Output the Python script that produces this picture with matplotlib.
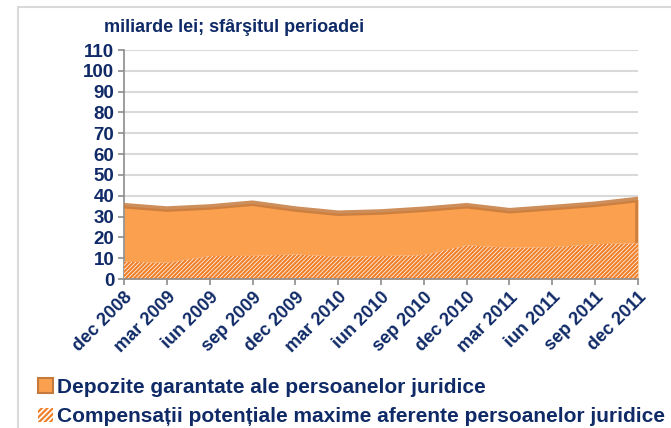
import numpy as np
import matplotlib
matplotlib.use('Agg')
import matplotlib.pyplot as plt
from matplotlib.patches import Patch, Rectangle

# data (miliarde lei)
periods = ['dec 2008', 'mar 2009', 'iun 2009', 'sep 2009', 'dec 2009', 'mar 2010',
           'iun 2010', 'sep 2010', 'dec 2010', 'mar 2011', 'iun 2011', 'sep 2011', 'dec 2011']
depozite = [35.2, 33.6, 34.6, 36.4, 33.6, 31.6, 32.2, 33.5, 35.2, 32.8, 34.3, 35.9, 38.2]
compensatii = [8.3, 7.8, 11.0, 11.1, 11.8, 10.7, 11.0, 11.5, 16.2, 15.0, 15.3, 16.7, 17.2]
yticks = list(range(0, 111, 10))

navy = '#0F2A66'
orange = '#FAA04E'
edge = '#C57A3D'
hatch_col = '#F0802A'

plt.rcParams['font.family'] = ['Liberation Sans', 'DejaVu Sans']
plt.rcParams['font.weight'] = 'bold'
plt.rcParams['hatch.linewidth'] = 1.6

fig = plt.figure(figsize=(6.71, 4.28), dpi=100)
# light frame around the chart
fig.patches.append(Rectangle((18 / 671, -0.1), 1.0, 1.1 - 7 / 428, transform=fig.transFigure,
                             fill=False, edgecolor='#D9D9D9', linewidth=1.5))

ax = fig.add_axes([124 / 671, 1 - 279 / 428, (638 - 124) / 671, (279 - 50) / 428])
x = np.arange(len(periods))

ax.fill_between(x, 0, depozite, color=orange, linewidth=0, zorder=2)
ax.plot(list(x) + [x[-1]], depozite + [0], color=edge, linewidth=4, alpha=0.85,
        solid_joinstyle='round', zorder=3)
ax.fill_between(x, 0, compensatii, facecolor='white', edgecolor=hatch_col, hatch='////////',
                linewidth=0, zorder=4)

ax.set_xlim(0, len(periods) - 1)
ax.set_ylim(0, 110)
ax.set_yticks(yticks)
ax.set_yticklabels([str(v) for v in yticks], fontsize=13.5, color=navy, fontweight='bold')
ax.set_xticks(x)
ax.set_xticklabels(periods, rotation=45, ha='right', rotation_mode='anchor',
                   fontsize=13, color=navy, fontweight='bold')
ax.grid(axis='y', color='#D9D9D9', linewidth=1.5, zorder=0)
ax.set_axisbelow(True)
for s in ['top', 'right']:
    ax.spines[s].set_visible(False)
for s in ['left', 'bottom']:
    ax.spines[s].set_color('#8C8C8C')
    ax.spines[s].set_linewidth(1.2)
ax.spines['bottom'].set_zorder(5)
ax.tick_params(axis='both', length=4, width=1.2, color='#8C8C8C', pad=3)

fig.text(104 / 671, 1 - 28 / 428, 'miliarde lei; sfârşitul perioadei', fontsize=13,
         color=navy, fontweight='bold', va='center', ha='left')

handles = [Patch(facecolor=orange, edgecolor=edge, linewidth=1.5),
           Patch(facecolor='white', edgecolor=hatch_col, hatch='//////', linewidth=0)]
labels = ['Depozite garantate ale persoanelor juridice',
          'Compensații potențiale maxime aferente persoanelor juridice']
fig.legend(handles, labels, loc='upper left', bbox_to_anchor=(38 / 671, 1 - 378 / 428),
           frameon=False, handlelength=0.7, handleheight=0.7,
           handletextpad=0.2, labelspacing=0.5, borderpad=0, borderaxespad=0,
           labelcolor=navy, prop={'weight': 'bold', 'size': 15})

fig.savefig('out.png', dpi=100)
